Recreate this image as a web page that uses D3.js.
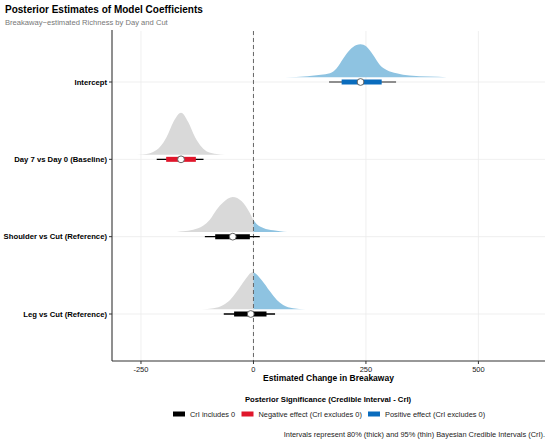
<!DOCTYPE html>
<html><head><meta charset="utf-8">
<script src="https://cdn.jsdelivr.net/npm/d3@7"></script>
<style>body{margin:0;background:#fff}svg{display:block;font-family:"Liberation Sans",Arial,sans-serif}</style>
</head><body><svg id="c" width="550" height="441"></svg>
<script>
// ---- data ----
const categories = ["Intercept","Day 7 vs Day 0 (Baseline)","Shoulder vs Cut (Reference)","Leg vs Cut (Reference)"];
const significance = ["pos","neg","inc","inc"];
const pointEst = [238,-161,-46,-6];
const lo80 = [196,-194,-85,-43];
const hi80 = [285,-128,-8,29];
const lo95 = [168,-215,-108,-66];
const hi95 = [317,-111,14,48];
const xTicks = [-250,0,250,500];
// densities: grid values and relative heights
const densX_Intercept = [70,120,150,170,185,200,214,229,238,251,266,281,296,318,347,391,430];
const densY_Intercept = [0,1,2.5,4,9,19,27.3,32.3,33,30.7,22.3,12.3,7.3,4,1.7,0.7,0];
const densX_Day7 = [-259,-237,-223,-208,-193,-178,-161,-145,-130,-115,-101,-82,-63];
const densY_Day7 = [0,0.7,2.7,7.7,17.7,32.7,42,32.7,17.7,7.7,2.7,0.7,0];
const densX_Shoulder = [-170,-156,-134,-112,-97,-82,-67,-46,-26,-8,0,7,22,44,59,75];
const densY_Shoulder = [0,0.7,2.3,6.3,12.3,22.3,29.7,35,30.7,19,12,8,4,1.7,0.7,0];
const densX_Leg = [-115,-89,-67,-52,-37,-19,-2,18,37,52,66,88,115];
const densY_Leg = [0,1,4.3,9.3,17.7,29.3,37,29.3,17.7,9.3,4.3,1,0];
const densX = [densX_Intercept,densX_Day7,densX_Shoulder,densX_Leg];
const densY = [densY_Intercept,densY_Day7,densY_Shoulder,densY_Leg];
const legendLabels = ["CrI includes 0","Negative effect (CrI excludes 0)","Positive effect (CrI excludes 0)"];
const legendKeys = ["inc","neg","pos"];

// ---- styles ----
const colInterval = {inc:"#000000", neg:"#e0162b", pos:"#0a6cbd"};
const colThin = {inc:"#000000", neg:"#000000", pos:"#6b6b6b"};
const slabGray = "#d9d9d9", slabBlue = "#8ec3e1";

const svg = d3.select("#c");
const P = {l:112, r:545, t:31, b:361};
const x = d3.scaleLinear().domain([-314.4, 648]).range([P.l, P.r]);
const y = d3.scalePoint().domain(categories).range([82, 314]);
const h = d3.scaleLinear().domain([0, 42]).range([0, 42]);
const slabOffset = 4.7;

// grid
const g = svg.append("g");
g.selectAll(".vg").data(xTicks).join("line")
  .attr("x1", d=>x(d)).attr("x2", d=>x(d)).attr("y1", P.t).attr("y2", P.b)
  .attr("stroke", "#ebebeb").attr("stroke-width", 0.8);
g.selectAll(".hg").data(categories).join("line")
  .attr("x1", P.l).attr("x2", P.r).attr("y1", d=>y(d)).attr("y2", d=>y(d))
  .attr("stroke", "#ebebeb").attr("stroke-width", 0.8);

// clip paths for blue/gray split at zero
const defs = svg.append("defs");
defs.append("clipPath").attr("id","neg").append("rect")
  .attr("x", P.l).attr("y", 0).attr("width", x(0)-P.l).attr("height", 441);
defs.append("clipPath").attr("id","pos").append("rect")
  .attr("x", x(0)).attr("y", 0).attr("width", P.r-x(0)+5).attr("height", 441);

categories.forEach((c,i)=>{
  const pts = densX[i].map((v,j)=>[v, densY[i][j]]);
  const base = y(c) - slabOffset;
  const area = d3.area().curve(d3.curveMonotoneX)
    .x(d=>x(d[0])).y0(base).y1(d=>base - h(d[1]));
  svg.append("path").attr("d", area(pts)).attr("fill", slabGray).attr("clip-path","url(#neg)");
  svg.append("path").attr("d", area(pts)).attr("fill", slabBlue).attr("clip-path","url(#pos)");
});

// zero line
svg.append("line").attr("x1", x(0)).attr("x2", x(0)).attr("y1", P.t).attr("y2", P.b)
  .attr("stroke", "#666").attr("stroke-width", 1).attr("stroke-dasharray", "4,3");

// intervals
categories.forEach((c,i)=>{
  const s = significance[i], yy = y(c);
  svg.append("line").attr("x1", x(lo95[i])).attr("x2", x(hi95[i])).attr("y1", yy).attr("y2", yy)
    .attr("stroke", colThin[s]).attr("stroke-width", 1.3);
  svg.append("line").attr("x1", x(lo80[i])).attr("x2", x(hi80[i])).attr("y1", yy).attr("y2", yy)
    .attr("stroke", colInterval[s]).attr("stroke-width", 5);
  svg.append("circle").attr("cx", x(pointEst[i])).attr("cy", yy).attr("r", 3.4)
    .attr("fill", "#fff").attr("stroke", "#555").attr("stroke-width", 0.9);
});

// axes
svg.append("line").attr("x1", P.l).attr("x2", P.l).attr("y1", P.t-1).attr("y2", P.b)
  .attr("stroke", "#333").attr("stroke-width", 1.1);
svg.append("line").attr("x1", P.l).attr("x2", P.r).attr("y1", P.b).attr("y2", P.b)
  .attr("stroke", "#333").attr("stroke-width", 1.1);
svg.selectAll(".yt").data(categories).join("line")
  .attr("x1", P.l-3).attr("x2", P.l).attr("y1", d=>y(d)).attr("y2", d=>y(d)).attr("stroke","#333");
svg.selectAll(".yl").data(categories).join("text")
  .attr("x", P.l-5).attr("y", d=>y(d)).attr("dy","0.35em").attr("text-anchor","end")
  .attr("font-size", 7.7).attr("font-weight","bold").attr("fill","#000").text(d=>d);
svg.selectAll(".xt").data(xTicks).join("line")
  .attr("x1", d=>x(d)).attr("x2", d=>x(d)).attr("y1", P.b).attr("y2", P.b+3).attr("stroke","#333");
svg.selectAll(".xl").data(xTicks).join("text")
  .attr("x", d=>x(d)).attr("y", P.b+11).attr("text-anchor","middle")
  .attr("font-size", 7.5).attr("fill","#222").text(d=>String(d));

// titles
svg.append("text").attr("x", 5).attr("y", 13).attr("font-size", 10).attr("font-weight","bold").text("Posterior Estimates of Model Coefficients");
svg.append("text").attr("x", 5).attr("y", 24.5).attr("font-size", 7.6).attr("fill","#777").text("Breakaway\u2212estimated Richness by Day and Cut");
svg.append("text").attr("x", (P.l+P.r)/2).attr("y", 381).attr("text-anchor","middle")
  .attr("font-size", 8.5).attr("font-weight","bold").text("Estimated Change in Breakaway");

// legend
svg.append("text").attr("x", 328).attr("y", 402).attr("text-anchor","middle")
  .attr("font-size", 7.7).attr("font-weight","bold").text("Posterior Significance (Credible Interval - CrI)");
const legX = [173, 241.5, 368];
legendKeys.forEach((k,i)=>{
  svg.append("rect").attr("x", legX[i]).attr("y", 411.5).attr("width", 12).attr("height", 5).attr("fill", colInterval[k]);
  svg.append("text").attr("x", legX[i]+17).attr("y", 417).attr("font-size", 7.4).attr("fill","#222").text(legendLabels[i]);
});
svg.append("text").attr("x", 545).attr("y", 437).attr("text-anchor","end").attr("font-size", 7.4).attr("fill","#222")
  .text("Intervals represent 80% (thick) and 95% (thin) Bayesian Credible Intervals (CrI).");
</script></body></html>
